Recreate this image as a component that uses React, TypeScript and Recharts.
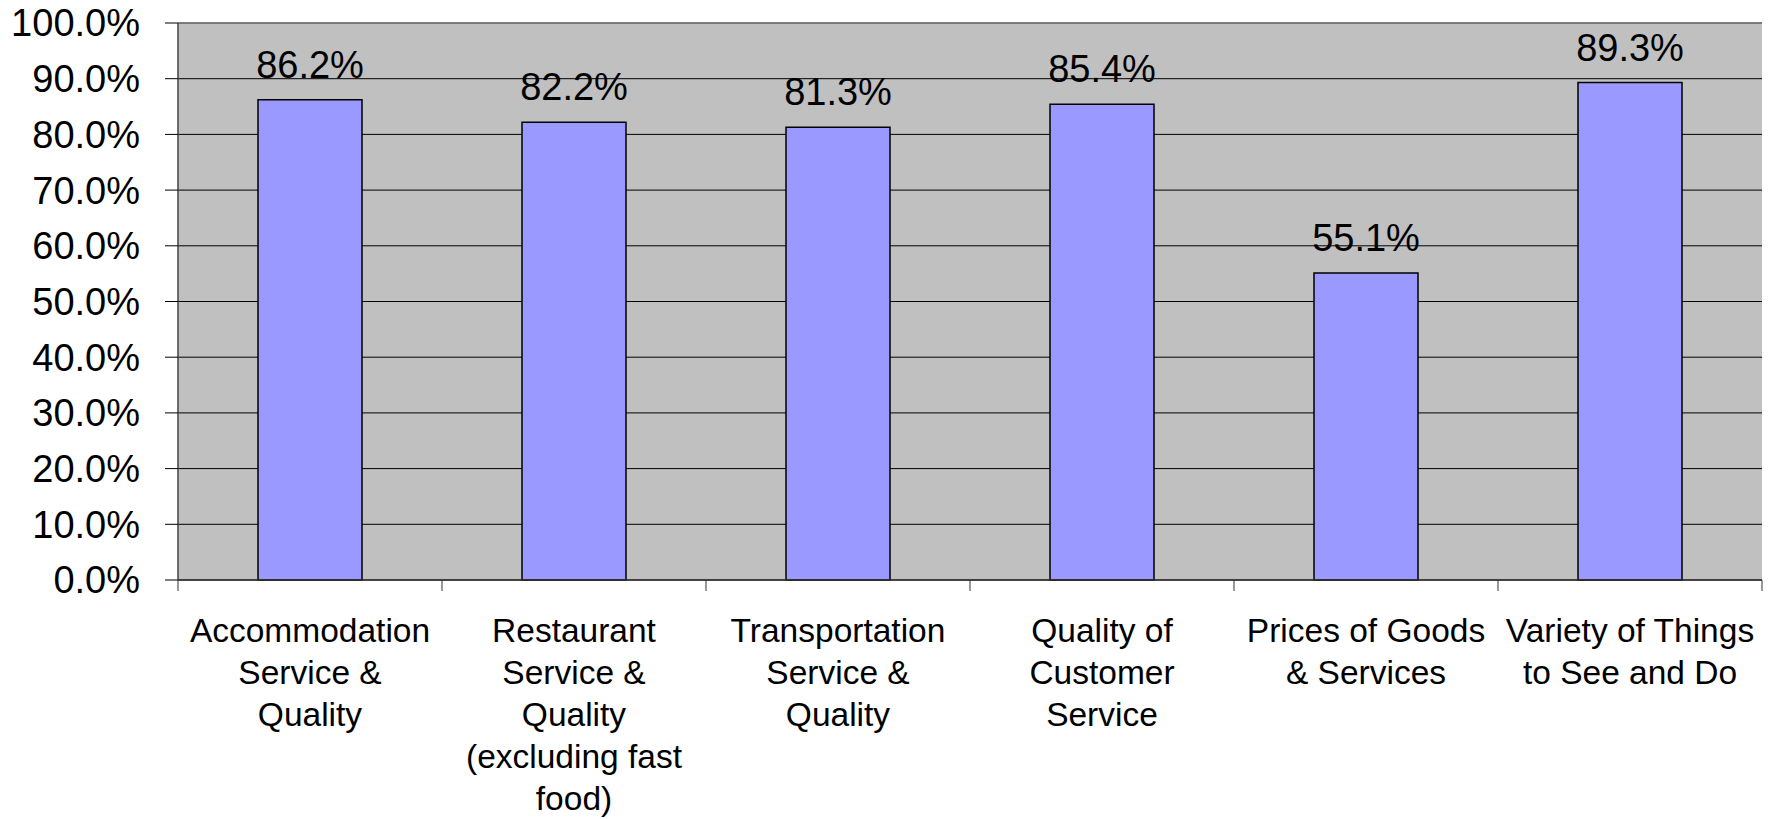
import React from 'react';
import { BarChart, Bar, XAxis, YAxis, CartesianGrid, LabelList, ReferenceLine } from 'recharts';

const categories: string[] = [
  'Accommodation\nService &\nQuality',
  'Restaurant\nService &\nQuality\n(excluding fast\nfood)',
  'Transportation\nService &\nQuality',
  'Quality of\nCustomer\nService',
  'Prices of Goods\n& Services',
  'Variety of Things\nto See and Do',
];
const values: number[] = [86.2, 82.2, 81.3, 85.4, 55.1, 89.3];
const yTicks: number[] = [0, 10, 20, 30, 40, 50, 60, 70, 80, 90, 100];

const data = categories.map((c, i) => ({ name: c, value: values[i] }));

const W = 1777;
const H = 819;
const M_TOP = 23;
const M_RIGHT = 15;
const Y_W = 178;
const X_H = 239;
const PLOT_BOTTOM = H - X_H;
const BAND = (W - Y_W - M_RIGHT) / categories.length;
const FONT = '"Liberation Sans", Arial, sans-serif';

const XTick = (props: any) => {
  const { x, payload, index } = props;
  const lines = String(payload.value).split('\n');
  const left = x - BAND / 2;
  const right = x + BAND / 2;
  return (
    <g>
      <line x1={left} y1={PLOT_BOTTOM} x2={left} y2={PLOT_BOTTOM + 11} stroke="#333" strokeWidth={1} />
      {index === categories.length - 1 && (
        <line x1={right} y1={PLOT_BOTTOM} x2={right} y2={PLOT_BOTTOM + 11} stroke="#333" strokeWidth={1} />
      )}
      <text x={x} y={PLOT_BOTTOM + 62} textAnchor="middle" fontSize={33.5} fontFamily={FONT} fill="#000">
        {lines.map((l, i) => (
          <tspan key={i} x={x} dy={i === 0 ? 0 : 42}>
            {l}
          </tspan>
        ))}
      </text>
    </g>
  );
};

export default function App() {
  return (
    <div style={{ position: 'absolute', left: 0, top: 0, width: W, height: H, background: '#fff' }}>
      <BarChart
        width={W}
        height={H}
        data={data}
        margin={{ top: M_TOP, right: M_RIGHT, bottom: 0, left: 0 }}
        barSize={104}
      >
        <CartesianGrid vertical={false} stroke="#000" strokeOpacity={1} fill="#C0C0C0" fillOpacity={1} />
        <XAxis
          dataKey="name"
          height={X_H}
          interval={0}
          tickLine={false}
          axisLine={{ stroke: '#333', strokeWidth: 1.5 }}
          tick={<XTick />}
        />
        <YAxis
          width={Y_W}
          domain={[0, 100]}
          ticks={yTicks}
          interval={0}
          tickSize={13}
          tickMargin={25}
          tickLine={{ stroke: '#000' }}
          axisLine={{ stroke: '#444', strokeWidth: 1.5 }}
          tickFormatter={(v: number) => `${v.toFixed(1)}%`}
          tick={{ fontSize: 38, fontFamily: FONT, fill: '#000' }}
        />
        <YAxis
          yAxisId="right"
          orientation="right"
          width={0}
          domain={[0, 100]}
          tick={false}
          tickLine={false}
          axisLine={{ stroke: '#808080', strokeWidth: 1.5 }}
        />
        <ReferenceLine y={100} stroke="#808080" strokeWidth={1.5} />
        <Bar dataKey="value" fill="#9999FF" stroke="#000" strokeWidth={1.5} isAnimationActive={false}>
          <LabelList
            dataKey="value"
            position="top"
            offset={22}
            formatter={(v: number) => `${v.toFixed(1)}%`}
            style={{ fontSize: 38, fontFamily: FONT, fill: '#000' }}
          />
        </Bar>
      </BarChart>
    </div>
  );
}
